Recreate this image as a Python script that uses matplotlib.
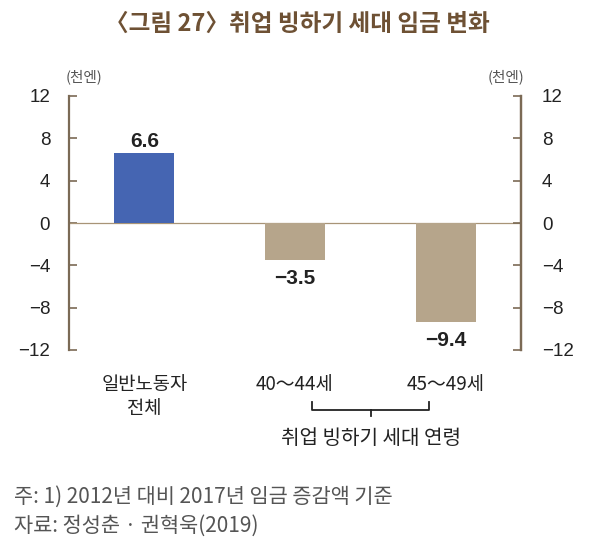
import matplotlib
matplotlib.use("Agg")
import matplotlib.pyplot as plt

plt.rcParams['font.family'] = ['Noto Sans CJK KR', 'DejaVu Sans']
plt.rcParams['axes.unicode_minus'] = True

categories = ["일반노동자\n전체", "40～44세", "45～49세"]
values = [6.6, -3.5, -9.4]
value_labels = ["6.6", "−3.5", "−9.4"]
bar_colors = ["#4565b2", "#b6a58b", "#b6a58b"]
yticks = [-12, -8, -4, 0, 4, 8, 12]
ytick_labels = ["−12", "−8", "−4", "0", "4", "8", "12"]

title = "〈그림 27〉취업 빙하기 세대 임금 변화"
unit = "(천엔)"
group_label = "취업 빙하기 세대 연령"
note1 = "주: 1) 2012년 대비 2017년 임금 증감액 기준"
note2 = "자료: 정성춘 · 권혁욱(2019)"

spine_c = "#7b6a55"
text_c = "#222222"
num_font = ['Liberation Sans', 'DejaVu Sans']

fig = plt.figure(figsize=(5.93, 5.59), dpi=100)
ax = fig.add_axes([69/593, 1-350/559, 452/593, 254/559])

x = list(range(len(categories)))
ax.bar(x, values, width=0.40, color=bar_colors, zorder=3)
ax.axhline(0, color="#a89477", lw=0.9, zorder=2)

ax.set_xlim(-0.5, 2.5)
ax.set_ylim(-12, 12)

for s in ["top", "bottom"]:
    ax.spines[s].set_visible(False)
for s in ["left", "right"]:
    ax.spines[s].set_color(spine_c)
    ax.spines[s].set_linewidth(1.6)

ax.set_yticks(yticks)
ax.set_yticklabels(ytick_labels, fontsize=13.5, color=text_c, family=num_font)
ax.tick_params(axis="y", direction="in", length=6, width=1.2, color=spine_c, pad=13.5,
               left=True, right=False, labelleft=True)
ax.set_xticks([])

ax2 = ax.twinx()
ax2.set_ylim(-12, 12)
for s in ["top", "bottom", "left"]:
    ax2.spines[s].set_visible(False)
ax2.spines["right"].set_color(spine_c)
ax2.spines["right"].set_linewidth(1.6)
ax2.set_yticks(yticks)
ax2.set_yticklabels(ytick_labels, fontsize=13.5, color=text_c, family=num_font)
ax2.tick_params(axis="y", direction="in", length=6, width=1.2, color=spine_c, pad=15)

# value labels
for xi, v, lab in zip(x, values, value_labels):
    if v >= 0:
        ax.text(xi, v + 0.25, lab, ha="center", va="bottom", fontsize=15, fontweight="bold",
                color=text_c, family=num_font)
    else:
        ax.text(xi, v - 0.8, lab, ha="center", va="top", fontsize=15, fontweight="bold",
                color=text_c, family=num_font)

# category labels
for xi, c in zip(x, categories):
    ax.text(xi, -14.3, c, ha="center", va="top", fontsize=13.5, color=text_c, linespacing=1.15)

# bracket
bt = ax.get_xaxis_transform()
ax.plot([1.116, 1.116, 1.891, 1.891], [-0.205, -0.236, -0.236, -0.205], color=text_c, lw=1.3,
        transform=bt, clip_on=False)
ax.plot([1.503, 1.503], [-0.236, -0.258], color=text_c, lw=1.3, transform=bt, clip_on=False)
ax.text(1.503, -0.35, group_label, ha="center", va="center", fontsize=14.5, color=text_c, transform=bt)

fig.text(297/593, 1-24/559, title, ha="center", va="center", fontsize=17, fontweight="bold", color="#6e5134")
fig.text(66/593, 1-77/559, unit, ha="left", va="center", fontsize=10.5, color="#555555")
fig.text(524/593, 1-77/559, unit, ha="right", va="center", fontsize=10.5, color="#555555")
fig.text(14/593, 1-497/559, note1, ha="left", va="center", fontsize=15, color="#555555")
fig.text(14/593, 1-526/559, note2, ha="left", va="center", fontsize=15, color="#555555")

fig.savefig("out.png", dpi=100)
